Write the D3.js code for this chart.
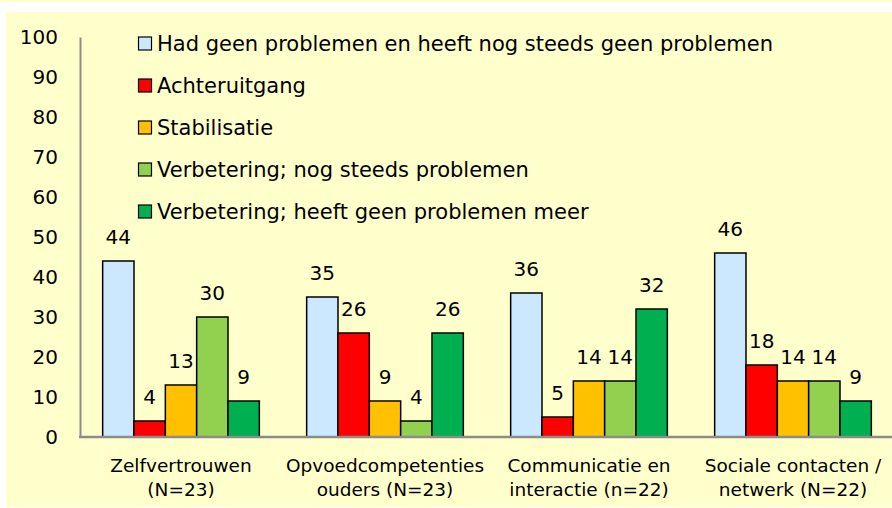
<!DOCTYPE html>
<html>
<head>
<meta charset="utf-8">
<script src="https://cdn.jsdelivr.net/npm/d3@7"></script>
<style>
  body { margin: 0; background: #fff; }
  svg { display: block; font-family: "DejaVu Sans", sans-serif; }
</style>
</head>
<body>
<script>
// categories (two lines each) and series
const categories = [
    ["Zelfvertrouwen", "(N=23)"],
    ["Opvoedcompetenties", "ouders (N=23)"],
    ["Communicatie en", "interactie (n=22)"],
    ["Sociale contacten /", "netwerk (N=22)"]
];
const seriesNames = [
    "Had geen problemen en heeft nog steeds geen problemen",
    "Achteruitgang",
    "Stabilisatie",
    "Verbetering; nog steeds problemen",
    "Verbetering; heeft geen problemen meer"
];
const hadGeen = [44, 35, 36, 46];
const achteruitgang = [4, 26, 5, 18];
const stabilisatie = [13, 9, 14, 14];
const verbeteringNog = [30, 4, 14, 14];
const verbeteringGeen = [9, 26, 32, 9];
const yTicks = [0, 10, 20, 30, 40, 50, 60, 70, 80, 90, 100];

const seriesValues = [hadGeen, achteruitgang, stabilisatie, verbeteringNog, verbeteringGeen];
const colors = ["#CCE8FF", "#FF0000", "#FFC000", "#92D050", "#00B050"];

const width = 892, height = 508;

const svg = d3.select("body")
    .append("svg")
    .attr("width", width)
    .attr("height", height);

// background panel
svg.append("rect").attr("x", 0).attr("y", 0).attr("width", width).attr("height", 2).attr("fill", "#FFFFCC");
svg.append("rect").attr("x", 6).attr("y", 12).attr("width", width - 6).attr("height", 495).attr("fill", "#FFFFCC");

// scales
const keys = d3.range(categories.length);
const x0 = d3.scaleBand()
    .domain(keys)
    .range([79, 895])
    .paddingInner(0.232)
    .paddingOuter(0.116);

const x1 = d3.scaleBand()
    .domain(d3.range(seriesNames.length))
    .range([0, x0.bandwidth()]);

const y = d3.scaleLinear()
    .domain([0, 100])
    .range([437, 37]);

// Y axis
const yAxis = svg.append("g")
    .attr("transform", "translate(80,0)")
    .call(d3.axisLeft(y).tickValues(yTicks).tickSize(0).tickPadding(22).tickSizeOuter(0));
yAxis.attr("font-family", "DejaVu Sans").attr("font-size", 20);
yAxis.select(".domain").attr("stroke", "#8C8C8C").attr("stroke-width", 2);
yAxis.selectAll("text").attr("fill", "#000");

// bars
const groups = svg.append("g")
    .selectAll("g")
    .data(keys)
    .join("g")
    .attr("transform", d => `translate(${x0(d)},0)`);

groups.selectAll("rect")
    .data(ci => seriesValues.map((vals, si) => ({ si, v: vals[ci] })))
    .join("rect")
    .attr("x", d => x1(d.si))
    .attr("y", d => y(d.v))
    .attr("width", x1.bandwidth())
    .attr("height", d => y(0) - y(d.v))
    .attr("fill", d => colors[d.si])
    .attr("stroke", "#000")
    .attr("stroke-width", 1.5);

groups.selectAll("text")
    .data(ci => seriesValues.map((vals, si) => ({ si, v: vals[ci] })))
    .join("text")
    .attr("x", d => x1(d.si) + x1.bandwidth() / 2)
    .attr("y", d => y(d.v) - 17)
    .attr("text-anchor", "middle")
    .attr("font-size", 20)
    .attr("fill", "#000")
    .text(d => d.v);

// X axis
const xAxis = svg.append("g")
    .attr("transform", "translate(0,437)")
    .call(d3.axisBottom(x0).tickSize(0).tickSizeOuter(0).tickFormat(""));
xAxis.attr("font-family", "DejaVu Sans").attr("font-size", 18.5);
xAxis.select(".domain").remove();
svg.append("line")
    .attr("x1", 79).attr("x2", width)
    .attr("y1", 437).attr("y2", 437)
    .attr("stroke", "#8C8C8C")
    .attr("stroke-width", 2.5);

xAxis.selectAll(".tick text")
    .attr("fill", "#000")
    .attr("y", 35)
    .attr("dy", null)
    .each(function (d) {
        const t = d3.select(this);
        categories[d].forEach((line, i) => {
            t.append("tspan")
                .attr("x", 0)
                .attr("dy", i === 0 ? 0 : 24)
                .text(line);
        });
    });

// legend
const legend = svg.append("g")
    .selectAll("g")
    .data(seriesNames)
    .join("g")
    .attr("transform", (d, i) => `translate(138,${43.5 + i * 42})`);

legend.append("rect")
    .attr("x", 0.5).attr("y", -6.5)
    .attr("width", 13).attr("height", 13)
    .attr("fill", (d, i) => colors[i])
    .attr("stroke", "#000")
    .attr("stroke-width", 1.2);

legend.append("text")
    .attr("x", 19)
    .attr("y", 0)
    .attr("dy", "0.36em")
    .attr("font-size", 21)
    .attr("fill", "#000")
    .text(d => d);
</script>
</body>
</html>
